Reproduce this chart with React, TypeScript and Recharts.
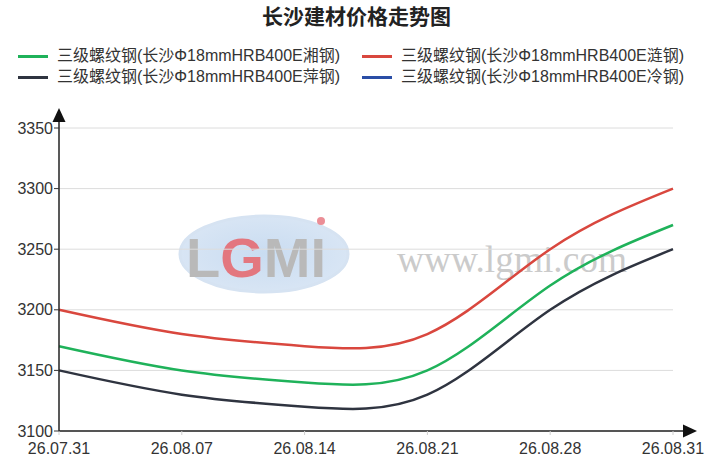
import React from 'react';
import { LineChart, Line, XAxis, YAxis, CartesianGrid } from 'recharts';

const dates = ['26.07.31', '26.08.07', '26.08.14', '26.08.21', '26.08.28', '26.08.31'];
const xiangGang = [3170, 3150, 3140, 3150, 3220, 3270];
const lianGang = [3200, 3180, 3170, 3180, 3250, 3300];
const pingGang = [3150, 3130, 3120, 3130, 3200, 3250];
const lengGang: (number | null)[] = [null, null, null, null, null, null];
const yTicks = [3100, 3150, 3200, 3250, 3300, 3350];

const seriesNames = [
  '三级螺纹钢(长沙Φ18mmHRB400E湘钢)',
  '三级螺纹钢(长沙Φ18mmHRB400E涟钢)',
  '三级螺纹钢(长沙Φ18mmHRB400E萍钢)',
  '三级螺纹钢(长沙Φ18mmHRB400E冷钢)',
];
const seriesColors = ['#1fb25a', '#d9473e', '#2f3440', '#2a4ea6'];

const data = dates.map((d, i) => ({
  date: d,
  xiang: xiangGang[i],
  lian: lianGang[i],
  ping: pingGang[i],
  leng: lengGang[i],
}));

const FONT = "'Liberation Sans', 'Noto Sans CJK SC', sans-serif";

const Watermark = () => (
  <svg width={719} height={474} style={{ position: 'absolute', left: 0, top: 0 }}>
    <defs>
      <radialGradient id="wmBlue" cx="50%" cy="50%" r="60%">
        <stop offset="0%" stopColor="#c9dcf1" />
        <stop offset="100%" stopColor="#dbe7f5" />
      </radialGradient>
    </defs>
    <ellipse cx={264} cy={254} rx={84} ry={38} fill="url(#wmBlue)" stroke="#d6e3f2" strokeWidth={3} />
    <text x={256} y={277} textAnchor="middle" fontFamily="'Liberation Sans', sans-serif" fontWeight="bold" fontSize={56} fill="#b9b9b9" textLength={140} lengthAdjust="spacingAndGlyphs">
      L<tspan fill="#e3777f">G</tspan>MI
    </text>
    <circle cx={321} cy={221} r={4} fill="#eb8e96" />
    <text x={397} y={272} fontFamily="'Liberation Serif', serif" fontSize={37} fill="#cbcbcb" textLength={230} lengthAdjust="spacingAndGlyphs">
      www.lgmi.com
    </text>
  </svg>
);

const LegendBox = () => (
  <div style={{ position: 'absolute', left: 0, top: 46, width: 719, fontFamily: FONT, fontSize: 16, color: '#333' }}>
    {seriesNames.map((name, i) => (
      <div
        key={name}
        style={{
          position: 'absolute',
          left: i % 2 === 0 ? 18 : 362,
          top: i < 2 ? 0 : 21,
          display: 'flex',
          alignItems: 'center',
          whiteSpace: 'nowrap',
          lineHeight: '20px',
        }}
      >
        <span style={{ display: 'inline-block', width: 30, height: 3, background: seriesColors[i], marginRight: 9 }} />
        <span>{name}</span>
      </div>
    ))}
  </div>
);

export default function App() {
  return (
    <div style={{ position: 'absolute', left: 0, top: 0, width: 719, height: 474, background: '#fff', overflow: 'hidden' }}>
      <svg width={0} height={0} style={{ position: 'absolute' }}>
        <defs>
          <marker id="arrowX" markerUnits="userSpaceOnUse" markerWidth={26} markerHeight={16} viewBox="0 0 26 16" refX={0} refY={8} orient="auto">
            <line x1={0} y1={8} x2={12} y2={8} stroke="#222" strokeWidth={1.5} />
            <path d="M10,1.5 L24,8 L10,14.5 Z" fill="#111" />
          </marker>
          <marker id="arrowY" markerUnits="userSpaceOnUse" markerWidth={22} markerHeight={16} viewBox="0 0 22 16" refX={0} refY={8} orient="auto-start-reverse">
            <line x1={0} y1={8} x2={8} y2={8} stroke="#222" strokeWidth={1.5} />
            <path d="M6,1.5 L20,8 L6,14.5 Z" fill="#111" />
          </marker>
        </defs>
      </svg>
      <Watermark />
      <div style={{ position: 'absolute', left: -3, top: 6, width: 719, textAlign: 'center', fontFamily: FONT, fontWeight: 'bold', fontSize: 21, lineHeight: '22px', color: '#222' }}>
        长沙建材价格走势图
      </div>
      <LegendBox />
      <div style={{ position: 'absolute', left: 0, top: 0 }}>
        <LineChart width={719} height={474} data={data} margin={{ top: 128, right: 46, bottom: 13, left: 0 }}>
          <CartesianGrid vertical={false} stroke="#dcdcdc" />
          <XAxis
            dataKey="date"
            padding={{ left: 0, right: 0 }}
            axisLine={{ stroke: '#222', strokeWidth: 1.5, markerEnd: 'url(#arrowX)' }}
            tickLine={{ stroke: '#cfcfcf' }}
            tickSize={4}
            tickMargin={8}
            height={30}
            tick={{ fill: '#333', fontSize: 16, fontFamily: FONT }}
            interval={0}
          />
          <YAxis
            domain={[3100, 3350]}
            ticks={yTicks}
            width={59}
            axisLine={{ stroke: '#222', strokeWidth: 1.5, markerStart: 'url(#arrowY)' }}
            tickLine={{ stroke: '#333' }}
            tickSize={5}
            tickMargin={1}
            tick={{ fill: '#333', fontSize: 16, fontFamily: FONT }}
          />
          <Line type="natural" dataKey="xiang" name={seriesNames[0]} stroke={seriesColors[0]} strokeWidth={2.5} dot={false} isAnimationActive={false} />
          <Line type="natural" dataKey="lian" name={seriesNames[1]} stroke={seriesColors[1]} strokeWidth={2.5} dot={false} isAnimationActive={false} />
          <Line type="natural" dataKey="ping" name={seriesNames[2]} stroke={seriesColors[2]} strokeWidth={2.5} dot={false} isAnimationActive={false} />
          <Line type="natural" dataKey="leng" name={seriesNames[3]} stroke={seriesColors[3]} strokeWidth={2.5} dot={false} isAnimationActive={false} />
        </LineChart>
      </div>
    </div>
  );
}
